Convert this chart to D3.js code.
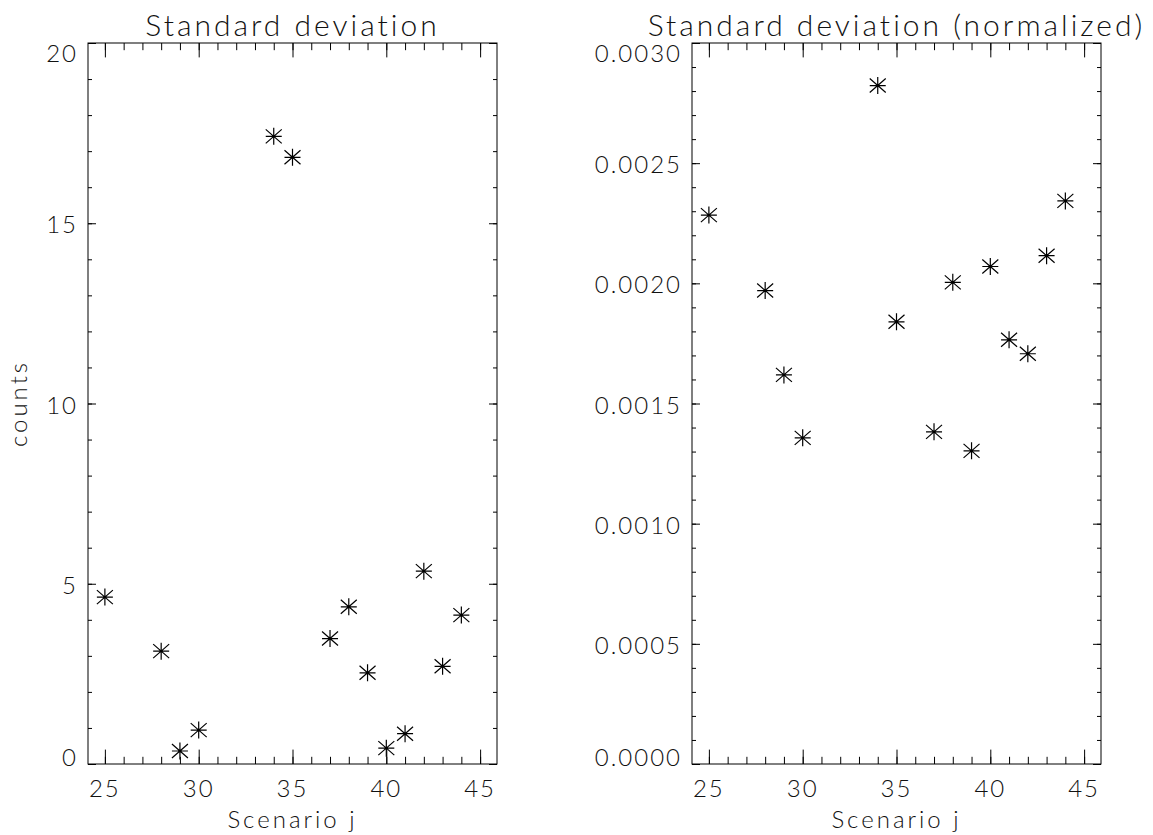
<!DOCTYPE html>
<html>
<head>
<meta charset="utf-8">
<script src="https://cdn.jsdelivr.net/npm/d3@7"></script>
<style>
  html, body { margin: 0; padding: 0; background: #fff; }
  svg { display: block; }
  text { font-family: Lato, "DejaVu Sans", sans-serif; font-weight: 300; fill: #111; }
</style>
</head>
<body>
<svg id="chart" width="1153" height="835"></svg>
<script>
// Scenario numbers on the x axis
const scenarios = [25, 28, 29, 30, 34, 35, 37, 38, 39, 40, 41, 42, 43, 44];

// Standard deviation in counts
const stdCounts = [4.63, 3.13, 0.36, 0.94, 17.41, 16.83, 3.48, 4.36, 2.53, 0.44, 0.84, 5.35, 2.71, 4.13];

// Standard deviation normalized
const stdNormalized = [0.002284, 0.001970, 0.001619, 0.001357, 0.002823, 0.001840, 0.001382,
                       0.002004, 0.001303, 0.002070, 0.001765, 0.001707, 0.002115, 0.002343];

// Axis ticks
const xMajorTicks = [25, 30, 35, 40, 45];
const xMinorTicks = d3.range(25, 46, 1);
const countsMajorTicks = [0, 5, 10, 15, 20];
const countsMinorTicks = d3.range(0, 21, 1);
const normMajorTicks = [0, 0.0005, 0.0010, 0.0015, 0.0020, 0.0025, 0.0030];
const normMinorTicks = d3.range(0, 31, 1).map(d => d / 10000);

const svg = d3.select("#chart");

const frameTop = 43, frameBottom = 764;
const frameW = 409;

function drawPanel(opts) {
  const left = opts.left, right = left + frameW;
  const g = svg.append("g");

  const x = d3.scaleLinear().domain([24.1, 45.9]).range([left, right]);
  const y = d3.scaleLinear().domain(opts.yDomain).range([frameBottom, frameTop]);

  // frame
  g.append("rect")
    .attr("x", left).attr("y", frameTop)
    .attr("width", frameW).attr("height", frameBottom - frameTop)
    .attr("fill", "none").attr("stroke", "#000").attr("stroke-width", 1);

  const strip = sel => { sel.select(".domain").remove(); sel.selectAll("text").remove(); };
  const tickStyle = sel => sel.selectAll("line").attr("stroke", "#000").attr("stroke-width", 1);

  // x ticks, bottom and top, pointing inward
  const xMajLen = 14.4, xMinLen = 7.2;
  g.append("g").attr("transform", `translate(0,${frameBottom})`)
    .call(d3.axisBottom(x).tickValues(xMinorTicks).tickSize(-xMinLen).tickFormat(""))
    .call(strip).call(tickStyle);
  g.append("g").attr("transform", `translate(0,${frameBottom})`)
    .call(d3.axisBottom(x).tickValues(xMajorTicks).tickSize(-xMajLen).tickFormat(""))
    .call(strip).call(tickStyle);
  g.append("g").attr("transform", `translate(0,${frameTop})`)
    .call(d3.axisTop(x).tickValues(xMinorTicks).tickSize(-xMinLen).tickFormat(""))
    .call(strip).call(tickStyle);
  g.append("g").attr("transform", `translate(0,${frameTop})`)
    .call(d3.axisTop(x).tickValues(xMajorTicks).tickSize(-xMajLen).tickFormat(""))
    .call(strip).call(tickStyle);

  // y ticks, left and right, pointing inward
  const yMajLen = 8, yMinLen = 4;
  g.append("g").attr("transform", `translate(${left},0)`)
    .call(d3.axisLeft(y).tickValues(opts.yMinor).tickSize(-yMinLen).tickFormat(""))
    .call(strip).call(tickStyle);
  g.append("g").attr("transform", `translate(${left},0)`)
    .call(d3.axisLeft(y).tickValues(opts.yMajor).tickSize(-yMajLen).tickFormat(""))
    .call(strip).call(tickStyle);
  g.append("g").attr("transform", `translate(${right},0)`)
    .call(d3.axisRight(y).tickValues(opts.yMinor).tickSize(-yMinLen).tickFormat(""))
    .call(strip).call(tickStyle);
  g.append("g").attr("transform", `translate(${right},0)`)
    .call(d3.axisRight(y).tickValues(opts.yMajor).tickSize(-yMajLen).tickFormat(""))
    .call(strip).call(tickStyle);

  // x tick labels
  g.selectAll(".xlab").data(xMajorTicks).join("text")
    .attr("x", d => x(d)).attr("y", 797)
    .attr("text-anchor", "middle")
    .style("font-size", "24px").style("letter-spacing", "2px")
    .text(d => d);

  // y tick labels (end labels kept inside the frame height)
  const capH = 17;
  g.selectAll(".ylab").data(opts.yMajor).join("text")
    .attr("x", left - 10)
    .attr("y", d => {
      let c = y(d) + 1.5;
      c = Math.max(c, frameTop + 2 + capH / 2);
      c = Math.min(c, frameBottom + 2 - capH / 2);
      return c + capH / 2;
    })
    .attr("text-anchor", "end")
    .style("font-size", "24px").style("letter-spacing", "2px")
    .text(opts.yFormat);

  // x axis title
  g.append("text")
    .attr("x", (left + right) / 2).attr("y", 828)
    .attr("text-anchor", "middle")
    .style("font-size", "24px").style("letter-spacing", "3px")
    .text("Scenario j");

  // panel title
  g.append("text")
    .attr("x", (left + right) / 2).attr("y", 36)
    .attr("text-anchor", "middle")
    .style("font-size", "30px").style("letter-spacing", "3px")
    .text(opts.title);

  if (opts.yTitle) {
    g.append("text")
      .attr("transform", `translate(27,${(frameTop + frameBottom) / 2}) rotate(-90)`)
      .attr("text-anchor", "middle")
      .style("font-size", "24px").style("letter-spacing", "3px")
      .text(opts.yTitle);
  }

  // asterisk markers
  const star = "M0,-8.5V8.5M-8,0H8M-8,-7L8,7M-8,7L8,-7";
  g.selectAll(".pt").data(scenarios.map((s, i) => [s, opts.values[i]])).join("path")
    .attr("transform", d => `translate(${x(d[0])},${y(d[1])})`)
    .attr("d", star)
    .attr("fill", "none").attr("stroke", "#000").attr("stroke-width", 1.2);
}

drawPanel({
  left: 88,
  yDomain: [0, 20],
  yMajor: countsMajorTicks,
  yMinor: countsMinorTicks,
  yFormat: d => d3.format("d")(d),
  values: stdCounts,
  title: "Standard deviation",
  yTitle: "counts"
});

drawPanel({
  left: 692,
  yDomain: [0, 0.003],
  yMajor: normMajorTicks,
  yMinor: normMinorTicks,
  yFormat: d => d3.format(".4f")(d),
  values: stdNormalized,
  title: "Standard deviation (normalized)",
  yTitle: null
});
</script>
</body>
</html>
